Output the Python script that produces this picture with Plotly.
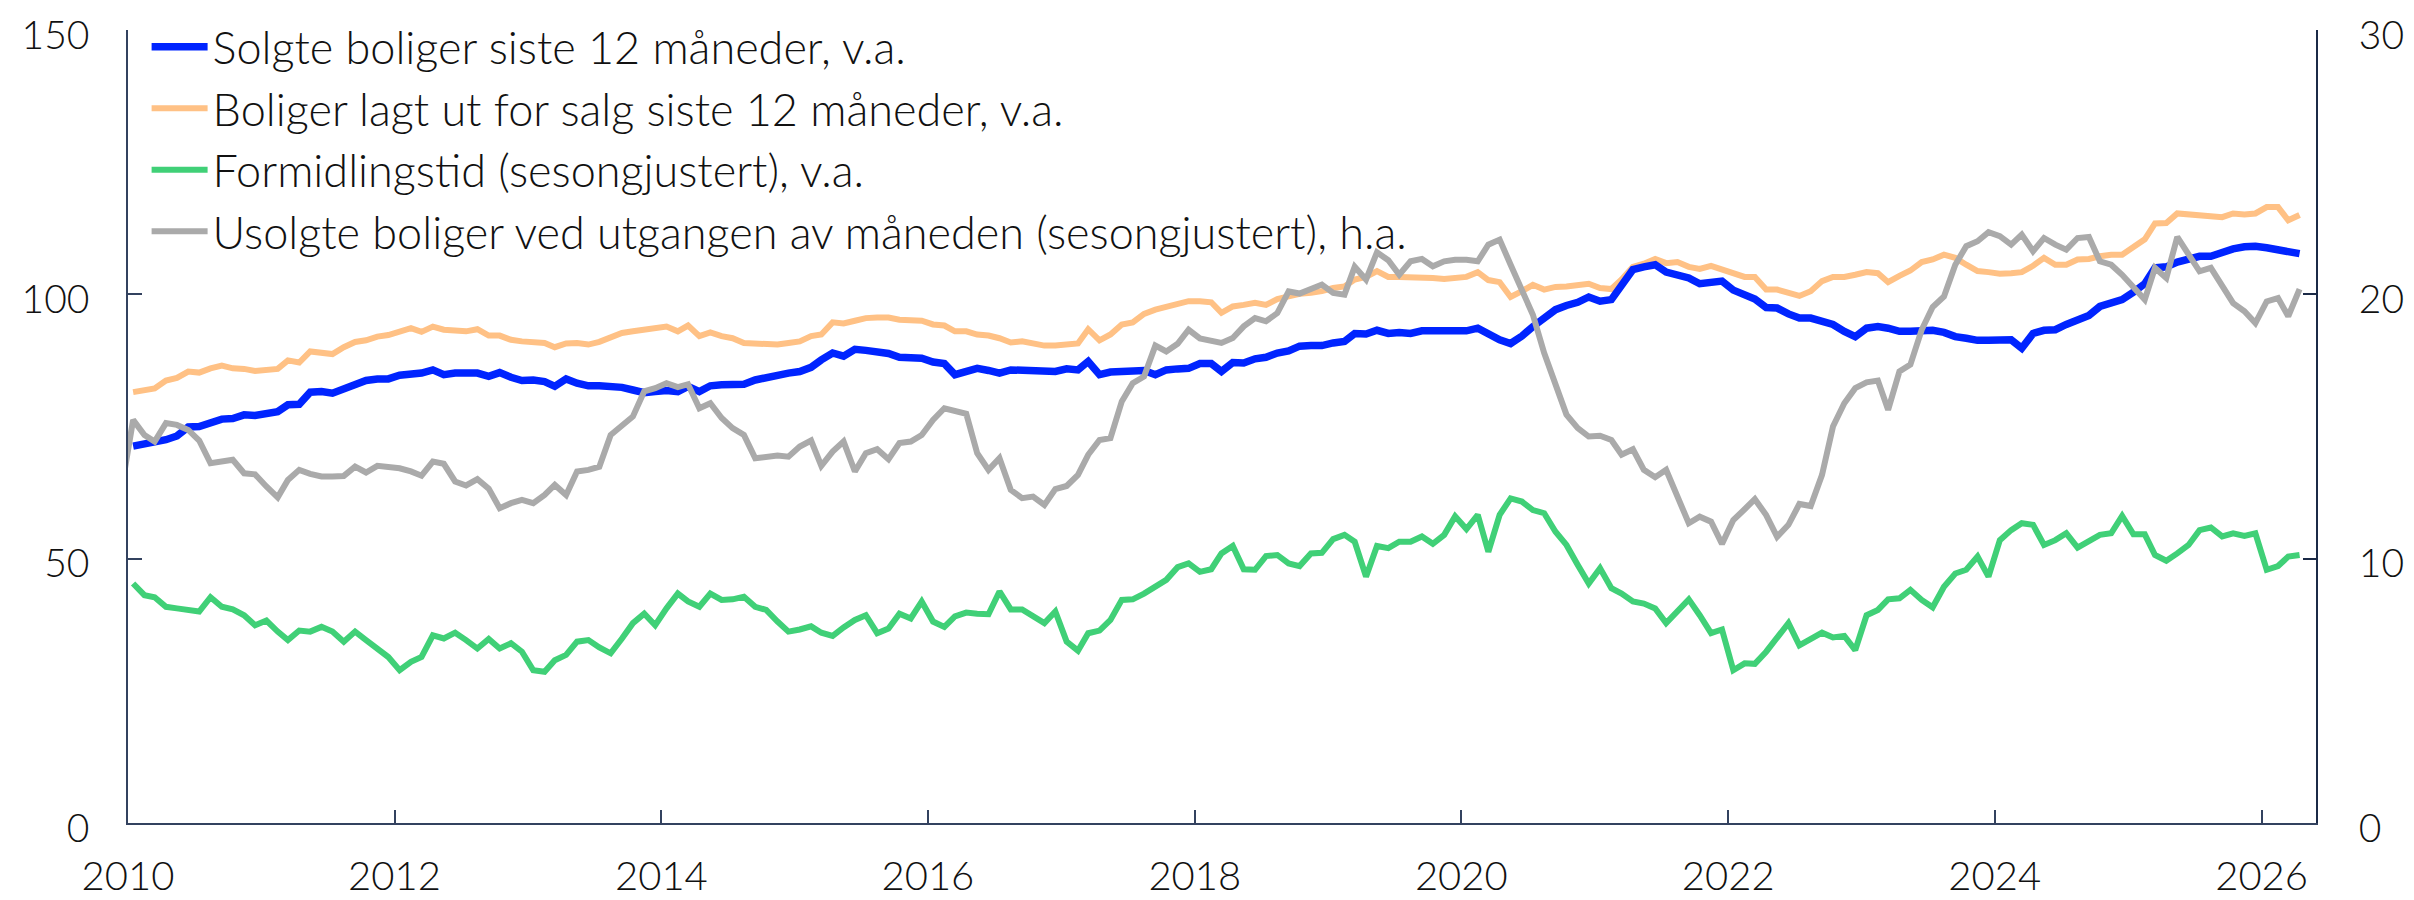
import plotly.graph_objects as go

# ---------------- data (monthly, mid-month) ----------------
start_year, start_month = 2010, 1

solgte = [
    71.3, 71.7, 72.0, 72.5, 73.2, 74.9, 75.0, 75.8, 76.4, 76.5,
    77.2, 77.1, 77.4, 77.8, 79.1, 79.2, 81.5, 81.6, 81.3, 82.1,
    82.9, 83.7, 84.0, 84.0, 84.7, 84.9, 85.1, 85.7, 84.8, 85.1,
    85.2, 85.1, 84.5, 85.2, 84.3, 83.7, 83.8, 83.5, 82.6, 84.0,
    83.2, 82.7, 82.7, 82.6, 82.4, 81.9, 81.4, 81.6, 81.8, 81.6,
    82.6, 81.6, 82.7, 82.9, 82.9, 83.0, 83.8, 84.3, 84.8, 85.1,
    85.4, 86.2, 87.6, 88.9, 88.3, 89.6, 89.4, 89.2, 88.8, 88.1,
    87.9, 87.9, 87.2, 86.9, 84.8, 85.5, 86.0, 85.6, 85.1, 85.7,
    85.7, 85.6, 85.6, 85.4, 85.9, 85.7, 87.3, 84.8, 85.3, 85.3,
    85.4, 85.6, 84.8, 85.7, 85.9, 86.0, 86.9, 86.9, 85.4, 87.1,
    87.0, 87.8, 88.1, 88.9, 89.3, 90.2, 90.3, 90.3, 90.8, 91.1,
    92.6, 92.5, 93.2, 92.6, 92.8, 92.6, 93.1, 93.1, 93.0, 93.0,
    93.1, 93.6, 92.4, 91.4, 90.7, 92.1, 93.9, 95.5, 97.1, 97.9,
    98.5, 99.5, 98.7, 99.0, 101.5, 104.7, 105.2, 105.6, 104.2, 103.7,
    103.1, 102.0, 102.3, 102.5, 100.8, 99.7, 99.1, 97.5, 97.4, 96.3,
    95.5, 95.5, 95.0, 94.3, 93.0, 92.0, 93.6, 93.9, 93.6, 93.0,
    93.0, 93.2, 93.2, 92.8, 92.0, 91.7, 91.3, 91.3, 91.2, 91.4,
    89.8, 92.6, 93.2, 93.3, 94.3, 95.1, 96.0, 97.7, 98.4, 99.0,
    100.4, 102.0, 105.0, 105.2, 106.1, 106.6, 107.2, 107.2, 108.1, 108.6,
    109.0, 109.1, 108.8, 108.3, 108.0, 107.7,
]

lagt_ut = [
    81.5, 81.9, 82.2, 83.7, 84.2, 85.4, 85.2, 86.0, 86.5, 86.0,
    85.9, 85.5, 85.7, 85.9, 87.5, 87.1, 89.2, 88.9, 88.7, 90.0,
    91.0, 91.3, 92.0, 92.3, 93.1, 93.6, 92.9, 93.9, 93.3, 93.2,
    93.0, 93.4, 92.2, 92.2, 91.4, 91.1, 90.9, 90.8, 90.0, 90.7,
    90.8, 90.5, 91.0, 91.9, 92.7, 93.0, 93.3, 93.6, 93.9, 93.0,
    94.1, 92.1, 92.8, 92.1, 91.7, 90.8, 90.7, 90.8, 90.5, 90.8,
    91.1, 92.1, 92.4, 94.7, 94.5, 95.0, 95.5, 95.6, 95.6, 95.2,
    95.2, 95.0, 94.3, 94.1, 93.0, 93.0, 92.4, 92.2, 91.7, 90.9,
    91.1, 90.7, 90.3, 90.3, 90.5, 90.7, 93.4, 91.3, 92.4, 94.3,
    94.7, 96.3, 97.1, 97.6, 98.2, 98.7, 98.7, 98.5, 96.5, 97.7,
    98.0, 98.4, 98.0, 99.1, 99.6, 100.1, 100.3, 100.6, 101.2, 101.5,
    102.8, 103.3, 104.4, 103.3, 103.3, 103.3, 103.2, 103.1, 102.9, 103.1,
    103.3, 104.2, 102.7, 102.3, 99.5, 100.6, 101.8, 100.9, 101.4, 101.5,
    101.8, 102.0, 101.2, 101.0, 102.8, 105.2, 105.8, 106.7, 105.9, 106.1,
    105.2, 104.8, 105.4, 104.8, 104.0, 103.3, 103.3, 100.9, 100.9, 100.3,
    99.7, 100.6, 102.5, 103.3, 103.3, 103.7, 104.2, 104.0, 102.3, 103.5,
    104.5, 106.1, 106.6, 107.5, 106.9, 105.6, 104.4, 104.2, 103.9, 104.0,
    104.2, 105.4, 106.9, 105.6, 105.6, 106.6, 106.7, 107.2, 107.5, 107.5,
    109.1, 110.4, 113.4, 113.5, 115.3, 115.1, 115.0, 114.6, 114.6, 115.3,
    115.1, 115.3, 116.5, 116.5, 114.0, 115.0,
]

formidlingstid = [
    45.3, 43.1, 42.7, 40.9, 40.6, 40.4, 40.0, 42.7, 40.9, 40.4,
    39.3, 37.4, 38.3, 36.2, 34.6, 36.4, 36.2, 37.1, 36.2, 34.3,
    36.2, 34.6, 33.0, 31.4, 28.9, 30.5, 31.4, 35.5, 34.9, 36.0,
    34.6, 33.0, 34.8, 33.0, 34.0, 32.4, 28.9, 28.6, 30.8, 31.8,
    34.3, 34.6, 33.2, 32.1, 34.9, 37.8, 39.6, 37.4, 40.6, 43.4,
    41.9, 40.9, 43.4, 42.2, 42.3, 42.8, 40.9, 40.3, 38.1, 36.2,
    36.6, 37.2, 36.0, 35.4, 37.0, 38.4, 39.3, 35.9, 36.8, 39.6,
    38.7, 41.9, 38.1, 37.1, 39.1, 39.8, 39.6, 39.5, 43.8, 40.4,
    40.4, 39.0, 37.8, 40.0, 34.3, 32.6, 35.9, 36.4, 38.4, 42.2,
    42.3, 43.4, 44.6, 46.0, 48.4, 49.1, 47.5, 48.0, 51.0, 52.4,
    48.0, 47.9, 50.5, 50.7, 49.1, 48.6, 51.0, 51.1, 53.7, 54.5,
    53.2, 46.6, 52.4, 52.0, 53.2, 53.2, 54.2, 52.8, 54.5, 58.0,
    55.6, 58.3, 51.3, 58.3, 61.4, 60.8, 59.2, 58.6, 55.1, 52.6,
    48.8, 45.3, 48.2, 44.4, 43.4, 41.9, 41.5, 40.6, 37.8, 40.2,
    42.3, 39.3, 35.9, 36.6, 28.9, 30.2, 30.1, 32.4, 34.9, 37.8,
    33.6, 34.9, 36.0, 35.1, 35.4, 32.7, 39.3, 40.3, 42.3, 42.5,
    44.1, 42.2, 40.8, 44.7, 47.2, 47.9, 50.4, 46.6, 53.5, 55.4,
    56.7, 56.4, 52.6, 53.5, 54.8, 52.1, 53.2, 54.5, 54.8, 58.1,
    54.6, 54.6, 50.7, 49.6, 51.0, 52.6, 55.4, 55.9, 54.2, 54.8,
    54.3, 54.8, 47.9, 48.6, 50.4, 50.7,
]

# unsold dwellings, right axis; series starts one month earlier (Dec 2009)
usolgte_start_year, usolgte_start_month = 2009, 12
usolgte = [
    12.7,
    15.25, 14.68, 14.43, 15.13, 15.06, 14.87, 14.47, 13.61, 13.67, 13.74,
    13.23, 13.19, 12.73, 12.32, 12.98, 13.36, 13.21, 13.11, 13.11, 13.13,
    13.48, 13.26, 13.51, 13.48, 13.42, 13.30, 13.14, 13.67, 13.59, 12.92,
    12.77, 13.01, 12.65, 11.91, 12.10, 12.22, 12.10, 12.41, 12.79, 12.41,
    13.30, 13.36, 13.48, 14.68, 15.06, 15.38, 16.33, 16.45, 16.64, 16.49,
    16.60, 15.69, 15.88, 15.32, 14.94, 14.68, 13.80, 13.86, 13.90, 13.86,
    14.24, 14.47, 13.51, 14.05, 14.43, 13.30, 13.99, 14.14, 13.76, 14.37,
    14.43, 14.68, 15.25, 15.69, 15.57, 15.48, 13.99, 13.36, 13.80, 12.60,
    12.29, 12.35, 12.03, 12.63, 12.75, 13.17, 13.93, 14.49, 14.56, 15.95,
    16.64, 16.89, 18.06, 17.84, 18.13, 18.66, 18.33, 18.22, 18.16, 18.35,
    18.79, 19.10, 18.98, 19.29, 20.11, 20.03, 20.18, 20.37, 20.05, 19.99,
    21.04, 20.56, 21.59, 21.29, 20.74, 21.25, 21.34, 21.06, 21.25, 21.31,
    21.31, 21.25, 21.88, 22.07, 21.12, 20.18, 19.23, 17.78, 16.52, 15.45,
    14.94, 14.62, 14.65, 14.49, 13.93, 14.14, 13.36, 13.08, 13.36, 12.35,
    11.34, 11.59, 11.40, 10.56, 11.46, 11.87, 12.25, 11.65, 10.83, 11.28,
    12.07, 11.99, 13.17, 15.00, 15.88, 16.45, 16.67, 16.74, 15.63, 17.08,
    17.34, 18.66, 19.52, 19.92, 21.12, 21.82, 22.01, 22.35, 22.20, 21.88,
    22.26, 21.63, 22.13, 21.88, 21.69, 22.13, 22.17, 21.25, 21.12, 20.74,
    20.24, 19.80, 21.00, 20.62, 22.17, 21.50, 20.87, 21.00, 20.33, 19.67,
    19.36, 18.91, 19.73, 19.86, 19.17, 20.20,
]

names = [
    "Solgte boliger siste 12 måneder, v.a.",
    "Boliger lagt ut for salg siste 12 måneder, v.a.",
    "Formidlingstid (sesongjustert), v.a.",
    "Usolgte boliger ved utgangen av måneden (sesongjustert), h.a.",
]
x_tick_labels = [str(y) for y in range(2010, 2027, 2)]


def month_dates(y, m, n):
    out = []
    for _ in range(n):
        out.append(f"{y}-{m:02d}-15")
        m += 1
        if m > 12:
            m = 1
            y += 1
    return out


dates = month_dates(start_year, start_month, len(solgte))
dates_u = month_dates(usolgte_start_year, usolgte_start_month, len(usolgte))

# ---------------- figure ----------------
FONT = "Lato"
AX = "#33425f"
AX2 = "#1b2a47"
W, H = 2406, 892  # page body has an 8px margin

fig = go.Figure()
fig.add_trace(go.Scatter(x=dates, y=lagt_ut, name=names[1], mode="lines",
                         line=dict(color="#ffc185", width=6), legendrank=2,
                         legendgroup="b"))
fig.add_trace(go.Scatter(x=dates, y=solgte, name=names[0], mode="lines",
                         line=dict(color="#0024ff", width=7.5), legendrank=1,
                         legendgroup="a"))
fig.add_trace(go.Scatter(x=dates, y=formidlingstid, name=names[2], mode="lines",
                         line=dict(color="#40d077", width=6), legendrank=3,
                         legendgroup="c"))
fig.add_trace(go.Scatter(x=dates_u, y=usolgte, name=names[3], mode="lines",
                         line=dict(color="#aaaaaa", width=6), legendrank=4,
                         legendgroup="d", yaxis="y2"))

fig.update_layout(
    width=W, height=H,
    margin=dict(l=119.5, r=97.5, t=22, b=77, autoexpand=False),
    paper_bgcolor="white", plot_bgcolor="white",
    font=dict(family=FONT, size=40, color="#111111", weight=300),
    showlegend=True,
    legend=dict(x=0.0085, y=1 - 3 / H, xref="paper", yref="container",
                xanchor="left", yanchor="top",
                bgcolor="rgba(0,0,0,0)", itemwidth=56, tracegroupgap=1.5,
                font=dict(family=FONT, size=45, weight=300),
                traceorder="normal"),
    xaxis=dict(type="date", range=["2010-01-01", "2026-05-30"],
               tickvals=[f"{y}-01-01" for y in range(2010, 2027, 2)],
               ticktext=x_tick_labels, automargin=False,
               ticklabeloverflow="allow",
               ticks="inside", ticklen=13, tickwidth=1.5, tickcolor=AX,
               showline=True, linecolor=AX, linewidth=1.5,
               showgrid=False, zeroline=False, ticklabelstandoff=17,
               tickfont=dict(family=FONT, size=40, weight=300)),
    yaxis=dict(range=[0, 150], tickvals=[0, 50, 100, 150], automargin=False,
               ticklabeloverflow="allow", ticklabelshift=5,
               ticks="inside", ticklen=14, tickwidth=1.5, tickcolor=AX,
               showline=True, linecolor=AX, linewidth=1.5,
               showgrid=False, zeroline=False, ticklabelstandoff=29,
               tickfont=dict(family=FONT, size=39, weight=300)),
    yaxis2=dict(range=[0, 30], tickvals=[0, 10, 20, 30], overlaying="y",
                side="right", anchor="x", automargin=False,
                ticklabeloverflow="allow", ticklabelshift=5,
                ticks="inside", ticklen=13, tickwidth=2, tickcolor=AX2,
                showline=True, linecolor=AX2, linewidth=2,
                showgrid=False, zeroline=False, ticklabelstandoff=33,
                tickfont=dict(family=FONT, size=39, weight=300)),
)

fig.write_html("out.html")
